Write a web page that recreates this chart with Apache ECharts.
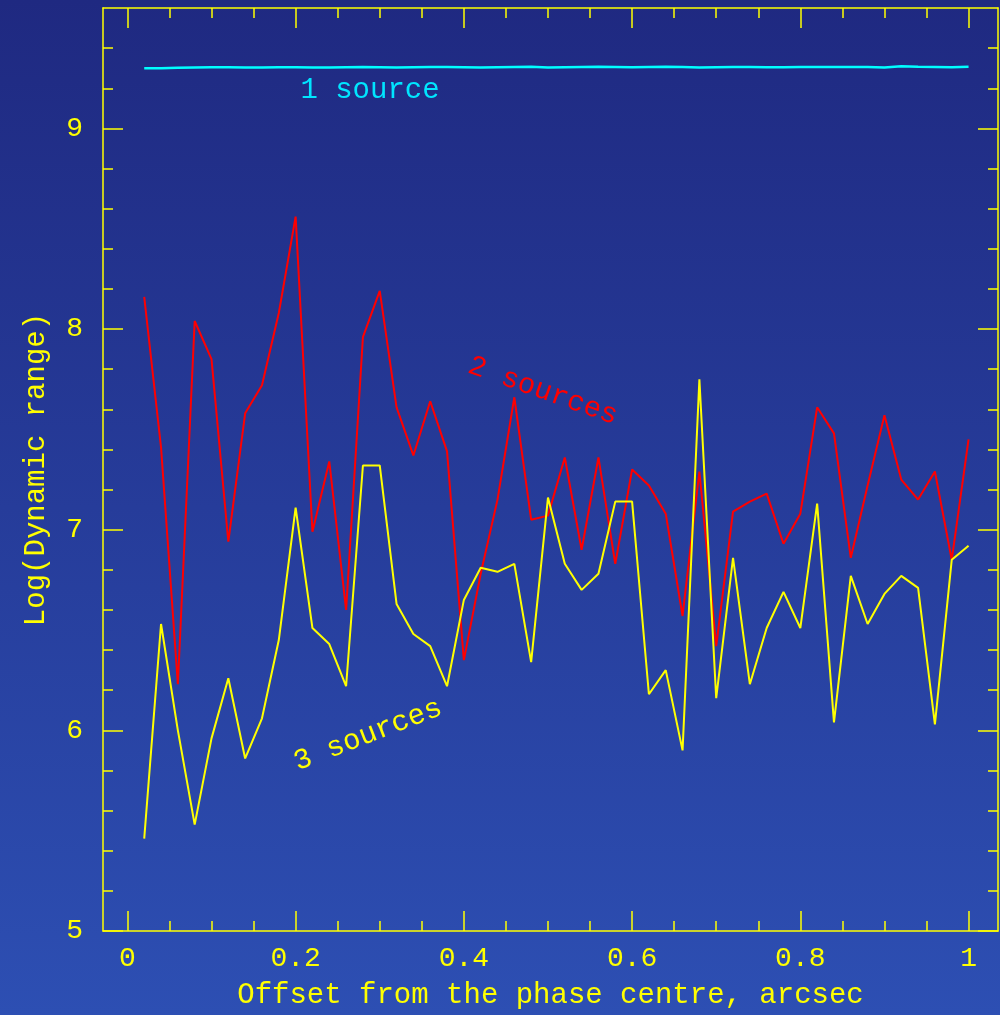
<!DOCTYPE html>
<html>
<head>
<meta charset="utf-8">
<script src="https://cdn.jsdelivr.net/npm/echarts@6/dist/echarts.min.js"></script>
<style>
  html, body { margin: 0; padding: 0; background: #2a44a0; }
  #chart { width: 1000px; height: 1015px; }
</style>
</head>
<body>
<div id="chart"></div>
<script>
// ---- Data ----
const offsets = [0.02, 0.04, 0.06, 0.08, 0.10, 0.12, 0.14, 0.16, 0.18, 0.20,
                 0.22, 0.24, 0.26, 0.28, 0.30, 0.32, 0.34, 0.36, 0.38, 0.40,
                 0.42, 0.44, 0.46, 0.48, 0.50, 0.52, 0.54, 0.56, 0.58, 0.60,
                 0.62, 0.64, 0.66, 0.68, 0.70, 0.72, 0.74, 0.76, 0.78, 0.80,
                 0.82, 0.84, 0.86, 0.88, 0.90, 0.92, 0.94, 0.96, 0.98, 1.00];

const oneSource = [9.300, 9.300, 9.302, 9.304, 9.305, 9.305, 9.303, 9.304, 9.305, 9.305,
                   9.304, 9.303, 9.305, 9.306, 9.305, 9.304, 9.305, 9.306, 9.306, 9.305,
                   9.304, 9.305, 9.306, 9.307, 9.304, 9.305, 9.306, 9.307, 9.306, 9.305,
                   9.306, 9.307, 9.306, 9.304, 9.305, 9.306, 9.306, 9.305, 9.305, 9.306,
                   9.306, 9.306, 9.306, 9.306, 9.304, 9.310, 9.307, 9.306, 9.305, 9.307];

const twoSources = [8.16, 7.41, 6.23, 8.04, 7.85, 6.94, 7.58, 7.72, 8.08, 8.56,
                    6.99, 7.34, 6.60, 7.96, 8.19, 7.61, 7.37, 7.64, 7.39, 6.35,
                    6.78, 7.15, 7.66, 7.05, 7.07, 7.36, 6.90, 7.36, 6.83, 7.30,
                    7.22, 7.08, 6.57, 7.29, 6.42, 7.09, 7.14, 7.18, 6.93, 7.08,
                    7.61, 7.48, 6.86, 7.22, 7.57, 7.25, 7.15, 7.29, 6.85, 7.45];

const threeSources = [5.46, 6.53, 6.00, 5.53, 5.96, 6.26, 5.86, 6.06, 6.45, 7.11,
                      6.51, 6.43, 6.22, 7.32, 7.32, 6.63, 6.48, 6.42, 6.22, 6.65,
                      6.81, 6.79, 6.83, 6.34, 7.16, 6.83, 6.70, 6.78, 7.14, 7.14,
                      6.18, 6.30, 5.90, 7.75, 6.16, 6.86, 6.23, 6.51, 6.69, 6.51,
                      7.13, 6.04, 6.77, 6.53, 6.68, 6.77, 6.71, 6.03, 6.85, 6.92];

const xMajorTicks = [0, 0.2, 0.4, 0.6, 0.8, 1];
const xMinorTicks = [0.05, 0.1, 0.15, 0.25, 0.3, 0.35, 0.45, 0.5, 0.55,
                     0.65, 0.7, 0.75, 0.85, 0.9, 0.95];
const yMajorTicks = [5, 6, 7, 8, 9];
const yMinorTicks = [5.2, 5.4, 5.6, 5.8, 6.2, 6.4, 6.6, 6.8, 7.2, 7.4, 7.6, 7.8,
                     8.2, 8.4, 8.6, 8.8, 9.2, 9.4];

const seriesNames = ['1 source', '2 sources', '3 sources'];
const xTitle = 'Offset from the phase centre, arcsec';
const yTitle = 'Log(Dynamic range)';

// ---- Styling ----
const X_MIN = -0.029, X_MAX = 1.035;
const Y_MIN = 5, Y_MAX = 9.6;
const AX = '#ffff00';
const FONT = '"Liberation Mono", "DejaVu Sans Mono", monospace';

function xAxisDef(position, ticks, len, withLine, withLabels) {
  return {
    type: 'value', position: position, min: X_MIN, max: X_MAX,
    axisLine: { show: withLine, onZero: false, lineStyle: { color: AX, width: 1.5 } },
    axisTick: { show: true, inside: true, length: len, customValues: ticks,
                lineStyle: { color: AX, width: 1.5 } },
    axisLabel: withLabels
      ? { show: true, customValues: ticks, color: AX, fontFamily: FONT, fontSize: 28, margin: 14 }
      : { show: false },
    splitLine: { show: false }
  };
}
function yAxisDef(position, ticks, len, withLine, withLabels) {
  return {
    type: 'value', position: position, min: Y_MIN, max: Y_MAX,
    axisLine: { show: withLine, onZero: false, lineStyle: { color: AX, width: 1.5 } },
    axisTick: { show: true, inside: true, length: len, customValues: ticks,
                lineStyle: { color: AX, width: 1.5 } },
    axisLabel: withLabels
      ? { show: true, customValues: ticks, color: AX, fontFamily: FONT, fontSize: 28, margin: 20 }
      : { show: false },
    splitLine: { show: false }
  };
}

const xAxes = [
  xAxisDef('bottom', xMajorTicks, 20, true, true),
  xAxisDef('bottom', xMinorTicks, 10, false, false),
  xAxisDef('top', xMajorTicks, 20, true, false),
  xAxisDef('top', xMinorTicks, 10, false, false)
];
Object.assign(xAxes[0], {
  name: xTitle, nameLocation: 'middle', nameGap: 50,
  nameTextStyle: { color: AX, fontFamily: FONT, fontSize: 29 }
});
const yAxes = [
  yAxisDef('left', yMajorTicks, 20, true, true),
  yAxisDef('left', yMinorTicks, 10, false, false),
  yAxisDef('right', yMajorTicks, 20, true, false),
  yAxisDef('right', yMinorTicks, 10, false, false)
];
Object.assign(yAxes[0], {
  name: yTitle, nameLocation: 'middle', nameGap: 52, nameRotate: 90,
  nameTextStyle: { color: AX, fontFamily: FONT, fontSize: 29 }
});

function pairs(vals) { return offsets.map((x, i) => [x, vals[i]]); }

const chart = echarts.init(document.getElementById('chart'), null, { renderer: 'canvas' });
chart.setOption({
  animation: false,
  backgroundColor: {
    type: 'linear', x: 0, y: 0, x2: 0, y2: 1,
    colorStops: [{ offset: 0, color: '#1f2981' }, { offset: 1, color: '#2d4fb3' }]
  },
  grid: { left: 103, right: 2, top: 8, bottom: 84, containLabel: false },
  xAxis: xAxes,
  yAxis: yAxes,
  series: [
    { name: seriesNames[0], type: 'line', data: pairs(oneSource), symbol: 'none',
      lineStyle: { color: '#00ffff', width: 2.5 }, itemStyle: { color: '#00ffff' } },
    { name: seriesNames[1], type: 'line', data: pairs(twoSources), symbol: 'none',
      lineStyle: { color: '#ff0000', width: 2 }, itemStyle: { color: '#ff0000' } },
    { name: seriesNames[2], type: 'line', data: pairs(threeSources), symbol: 'none',
      lineStyle: { color: '#ffff00', width: 2 }, itemStyle: { color: '#ffff00' } }
  ],
  graphic: [
    { type: 'text', x: 370, y: 90, silent: true,
      style: { text: seriesNames[0], fill: '#00e5ff', font: '29px ' + FONT, align: 'center', verticalAlign: 'middle' } },
    { type: 'text', x: 543, y: 391, rotation: -0.34, silent: true,
      style: { text: seriesNames[1], fill: '#ff0000', font: '29px ' + FONT, align: 'center', verticalAlign: 'middle' } },
    { type: 'text', x: 368, y: 735, rotation: 0.37, silent: true,
      style: { text: seriesNames[2], fill: '#ffff00', font: '29px ' + FONT, align: 'center', verticalAlign: 'middle' } }
  ]
});
</script>
</body>
</html>
